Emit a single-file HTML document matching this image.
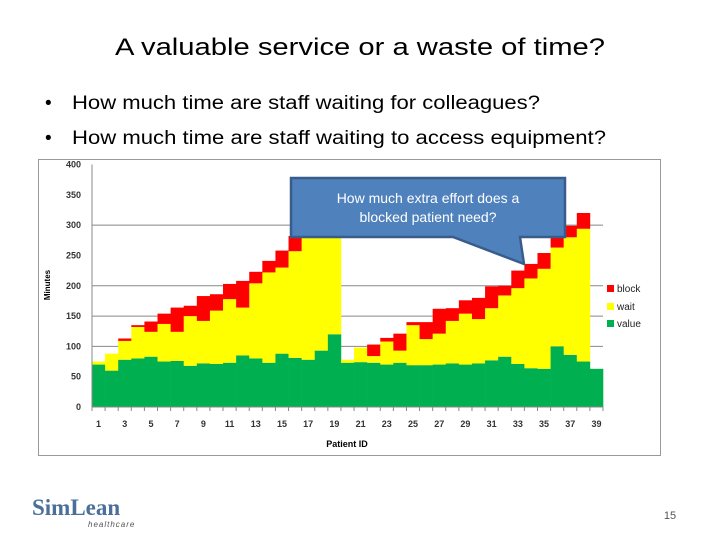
<!DOCTYPE html>
<html><head><meta charset="utf-8"><style>
body{margin:0;background:#fff;}
svg{display:block;font-family:"Liberation Sans",sans-serif;}
</style></head><body>
<svg id="slide" width="720" height="540" viewBox="0 0 720 540">
<text x="360" y="55" text-anchor="middle" font-size="24" fill="#000" textLength="490" lengthAdjust="spacingAndGlyphs">A valuable service or a waste of time?</text>
<g>
<text x="45" y="109" font-size="19">•</text>
<text x="72" y="109" font-size="19" textLength="468" lengthAdjust="spacingAndGlyphs">How much time are staff waiting for colleagues?</text>
<text x="45" y="144" font-size="19">•</text>
<text x="72" y="144" font-size="19" textLength="534" lengthAdjust="spacingAndGlyphs">How much time are staff waiting to access equipment?</text>
</g>
<rect x="38.5" y="159.5" width="622" height="296" fill="#fff" stroke="#999"/>
<g id="chart"></g>
<g>
<path d="M291,178 H565 V237 H520 L524,264 L453,237 H291 Z" fill="#4f81bd" stroke="#385d8a" stroke-width="2.5"/>
<text x="428" y="203" text-anchor="middle" font-size="14" fill="#fff">How much extra effort does a</text>
<text x="428" y="222" text-anchor="middle" font-size="14" fill="#fff">blocked patient need?</text>
</g>
<g>
<text x="32" y="515" font-family="'Liberation Serif',serif" font-weight="bold" font-size="23" fill="#4a6f9a">SimLean</text>
<text x="88" y="527" font-size="8" font-style="italic" fill="#555" letter-spacing="1">healthcare</text>
</g>
<text x="670" y="519" text-anchor="middle" font-size="11" fill="#555">15</text>
</svg>
<script>
const patientIds = Array.from({length:39},(_,i)=>i+1);
const valueSeries = [70,60,78,80,83,75,76,68,72,71,73,85,80,73,88,81,78,93,120,73,74,73,70,73,69,69,70,72,70,72,77,83,71,64,63,100,86,75,63];
const waitSeries = [5,28,31,52,41,62,48,82,70,88,105,79,124,149,142,176,227,227,210,5,24,11,38,20,66,43,51,70,84,73,86,101,125,148,165,163,194,219,0];
const blockSeries = [0,0,4,3,17,17,40,17,41,27,25,44,19,19,28,25,0,0,0,0,0,19,6,28,5,28,41,21,22,35,36,16,29,24,26,21,19,26,0];
const yTicks = [0,50,100,150,200,250,300,350,400];
const gridVals = [100,150,200,300];
const NS="http://www.w3.org/2000/svg";
const g=document.getElementById('chart');
const X0=92,X1=603,Y0=407,YTOP=164.5;
const bw=(X1-X0)/patientIds.length;
const yS=v=>Y0-(v/400)*(Y0-YTOP);
const xS=i=>X0+i*bw;
function mk(t,a,p){const e=document.createElementNS(NS,t);for(const k in a)e.setAttribute(k,a[k]);(p||g).appendChild(e);return e;}
gridVals.forEach(v=>{
 const l=mk('line',{x1:X0,x2:X1,y1:yS(v),y2:yS(v),stroke:'#888','stroke-width':1});
 
 
});
patientIds.forEach((id,i)=>{
 const v=valueSeries[i],w=waitSeries[i],b=blockSeries[i];
 const segs=[[0,v,'#00b050','value'],[v,v+w,'#ffff00','wait'],[v+w,v+w+b,'#ff0000','block']];
 segs.forEach(s=>{ if(s[1]<=s[0])return;
  const r=mk('rect',{x:xS(i),y:yS(s[1]),width:bw+0.3,height:yS(s[0])-yS(s[1]),fill:s[2]});
  
  
 });
});
const ax=mk('line',{x1:X0,x2:X0,y1:YTOP,y2:Y0,stroke:'#888'});


const bx=mk('line',{x1:X0,x2:X1,y1:Y0,y2:Y0,stroke:'#888'});


yTicks.forEach(v=>{
 const t=mk('text',{x:81,y:yS(v)+3,'text-anchor':'end','font-size':9,'font-weight':'bold',fill:'#333'});
 t.textContent=v;
 
 
});
for(let i=0;i<=patientIds.length;i++){
 const tk=mk('line',{x1:xS(i),x2:xS(i),y1:Y0,y2:Y0+4,stroke:'#888'});
 
 
}
patientIds.forEach((id,i)=>{ if(id%2===0)return;
 const t=mk('text',{x:xS(i)+bw/2,y:Y0+20,'text-anchor':'middle','font-size':9,'font-weight':'bold',fill:'#333'});
 t.textContent=id;
 
 
});
const xt=mk('text',{x:347,y:447,'text-anchor':'middle','font-size':9,'font-weight':'bold',fill:'#000'});
xt.textContent='Patient ID';


const yt=mk('text',{x:0,y:0,'text-anchor':'middle','font-size':8,'font-weight':'bold',fill:'#000',transform:'translate(50,285) rotate(-90)'});
yt.textContent='Minutes';


[['block','#ff0000',289],['wait','#ffff00',307],['value','#00b050',324]].forEach(e=>{
 const r=mk('rect',{x:607,y:e[2]-4,width:7,height:7,fill:e[1]});
 
 
 const t=mk('text',{x:617,y:e[2]+3,'font-size':10,fill:'#222'});
 t.textContent=e[0];
 
 
});
</script>
</body></html>
